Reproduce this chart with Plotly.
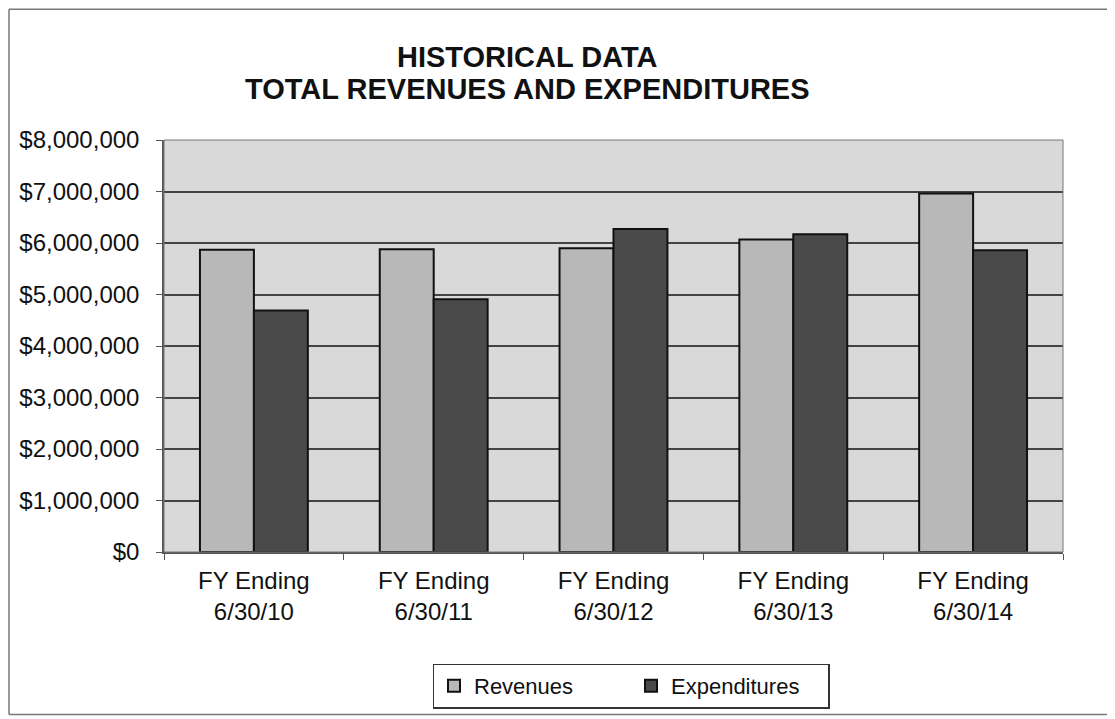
import plotly.graph_objects as go

categories = ["FY Ending<br>6/30/10", "FY Ending<br>6/30/11", "FY Ending<br>6/30/12",
              "FY Ending<br>6/30/13", "FY Ending<br>6/30/14"]
revenues = [5870000, 5880000, 5900000, 6070000, 6960000]
expenditures = [4690000, 4910000, 6270000, 6170000, 5860000]
y_ticks = [0, 1000000, 2000000, 3000000, 4000000, 5000000, 6000000, 7000000, 8000000]
y_tick_labels = ["$0", "$1,000,000", "$2,000,000", "$3,000,000", "$4,000,000",
                 "$5,000,000", "$6,000,000", "$7,000,000", "$8,000,000"]
title_lines = ["HISTORICAL DATA", "TOTAL REVENUES AND EXPENDITURES"]

OFF = 8  # page body margin
W, H = 1115 - OFF, 719 - OFF
L, T = 164 - OFF, 140 - OFF
R = W - (1063 - OFF)
B = H - (553 - OFF)
pw, ph = W - L - R, H - T - B

def px_x(p):
    return (p - OFF - L) / pw

def px_y(p):
    return (H - B - (p - OFF)) / ph

fig = go.Figure()
fig.add_trace(go.Bar(name="Revenues", x=categories, y=revenues,
                     marker=dict(color="#b8b8b8", line=dict(color="#111111", width=2))))
fig.add_trace(go.Bar(name="Expenditures", x=categories, y=expenditures,
                     marker=dict(color="#4a4a4a", line=dict(color="#111111", width=2))))

fig.update_layout(
    width=W, height=H,
    margin=dict(l=L, r=R, t=T, b=B),
    paper_bgcolor="white",
    plot_bgcolor="#d9d9d9",
    barmode="group",
    bargap=0.4,
    bargroupgap=0,
    font=dict(family="Arial, Liberation Sans", size=24, color="#111111"),
    legend=dict(orientation="h", x=px_x(631), y=px_y(686), xanchor="center", yanchor="middle",
                bordercolor="#333333", borderwidth=1.5, bgcolor="white",
                font=dict(size=22), itemwidth=30, entrywidthmode="pixels", entrywidth=152),
    showlegend=True,
)
for text, yc in zip(title_lines, [57, 89]):
    fig.add_annotation(text="<b>" + text + "</b>", xref="paper", yref="paper",
                       x=px_x(527), y=px_y(yc), xanchor="center", yanchor="middle",
                       showarrow=False, font=dict(size=29, color="#111111"))

fig.update_yaxes(range=[0, 8000000], tickvals=y_ticks, ticktext=y_tick_labels,
                 showgrid=True, gridcolor="#444444", gridwidth=1.5,
                 showline=True, linecolor="#555555", linewidth=1.5,
                 ticks="outside", ticklen=6, tickcolor="#555555",
                 ticklabelstandoff=12,
                 zeroline=False, mirror=False)
fig.update_xaxes(showline=True, linecolor="#555555", linewidth=1.5,
                 ticks="outside", ticklen=6, tickcolor="#555555",
                 tickson="boundaries", ticklabelstandoff=6, mirror=False)

# plot area border
fig.add_shape(type="rect", xref="paper", yref="paper", x0=0, x1=1, y0=0, y1=1,
              line=dict(color="#777777", width=1))
# outer chart border (left, top, bottom)
frame = dict(color="#777777", width=1.5)
fig.add_shape(type="line", xref="paper", yref="paper", x0=px_x(9), x1=px_x(9),
              y0=px_y(716), y1=px_y(9), line=frame)
fig.add_shape(type="line", xref="paper", yref="paper", x0=px_x(9), x1=px_x(1115),
              y0=px_y(9), y1=px_y(9), line=frame)
fig.add_shape(type="line", xref="paper", yref="paper", x0=px_x(9), x1=px_x(1115),
              y0=px_y(716), y1=px_y(716), line=frame)

fig.write_html("out.html")
